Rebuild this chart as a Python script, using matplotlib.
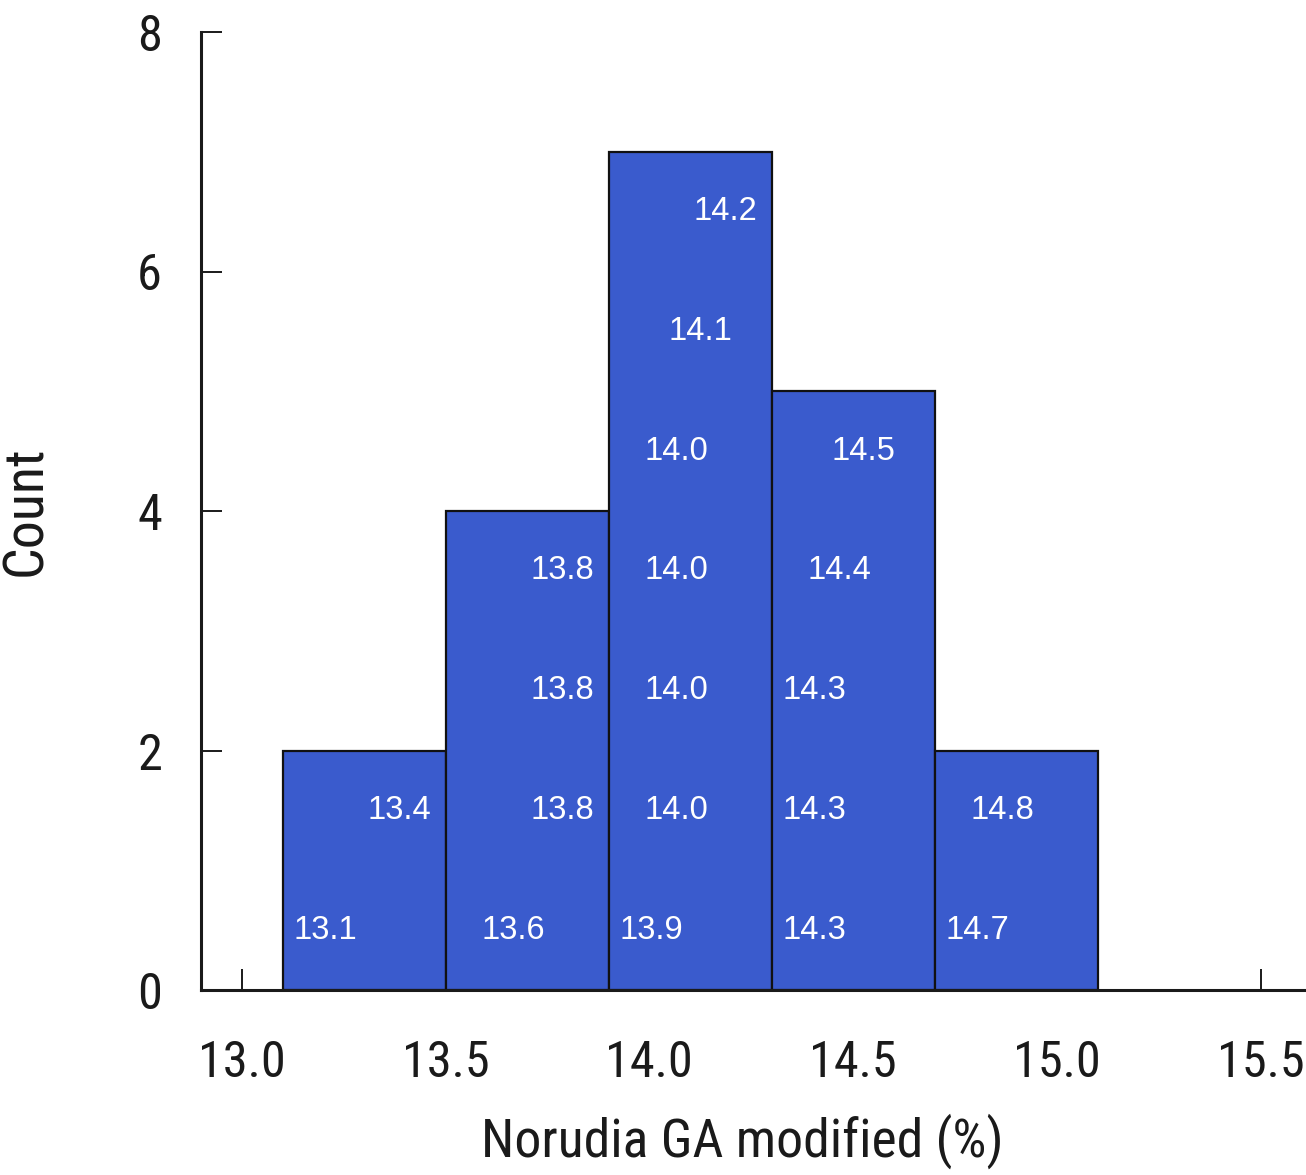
import matplotlib
matplotlib.use("Agg")
import matplotlib.pyplot as plt
from matplotlib import font_manager as fm
from matplotlib.font_manager import FontProperties
from matplotlib.textpath import TextPath

# ---- data ----
bin_edges = [13.1, 13.5, 13.9, 14.3, 14.7, 15.1]
values = [13.1, 13.4,
          13.6, 13.8, 13.8, 13.8,
          13.9, 14.0, 14.0, 14.0, 14.0, 14.1, 14.2,
          14.3, 14.3, 14.3, 14.4, 14.5,
          14.7, 14.8]
x_ticks = [13.0, 13.5, 14.0, 14.5, 15.0, 15.5]
x_tick_labels = ["13.0", "13.5", "14.0", "14.5", "15.0", "15.5"]
y_ticks = [0, 2, 4, 6, 8]
y_tick_labels = ["0", "2", "4", "6", "8"]
x_label = "Norudia GA modified (%)"
y_label = "Count"

# ---- choose the narrowest available sans font for axis text ----
keys = ["Liberation Sans", "Roboto", "Open Sans", "DejaVu Sans", "Noto Sans", "Lato", "Inter"]
best = None
target_ratio = 82.0 / 36.7
for f in fm.fontManager.ttflist:
    nm = f.name
    if not any(nm.startswith(k) for k in keys):
        continue
    if "Mono" in nm or "CJK" in nm or "Serif" in nm:
        continue
    if f.style != "normal":
        continue
    try:
        w = int(f.weight)
    except Exception:
        w = 400 if str(f.weight) in ("normal", "regular", "book") else 0
    if w not in (400,):
        continue
    try:
        fp = FontProperties(fname=f.fname)
        ext = TextPath((0, 0), "13.0", size=100, prop=fp).get_extents()
        ratio = ext.width / ext.height
    except Exception:
        continue
    score = abs(ratio - target_ratio)
    if best is None or score < best[0]:
        best = (score, f.fname, ext.height)

if best is None:
    axis_fp = FontProperties(family="Liberation Sans")
    h100 = 71.6
else:
    axis_fp = FontProperties(fname=best[1])
    h100 = best[2]

def size_for_height(px):
    return px * 72.0 / 100.0 / (h100 / 100.0)

tick_size = size_for_height(36.7)

def size_for_width(s, px):
    ext = TextPath((0, 0), s, size=100, prop=axis_fp).get_extents()
    return px * 72.0 / 100.0 / (ext.width / 100.0)

xlabel_size = min(size_for_width(x_label, 515), size_for_height(36.7) * 1.1)
ylabel_size = min(size_for_width(y_label, 125), size_for_height(36.7) * 1.12)

W, H = 1306, 1175
fig = plt.figure(figsize=(W / 100, H / 100), dpi=100)
ax = fig.add_axes([201 / W, 1 - 990 / H, 1105 / W, (990 - 32) / H])

bar_color = "#3A5BCD"
ax.hist(values, bins=bin_edges, color=bar_color, edgecolor="#111111", linewidth=1.6, zorder=1)

# value labels stacked inside bars
for i in range(len(bin_edges) - 1):
    lo, hi = bin_edges[i], bin_edges[i + 1]
    if i == len(bin_edges) - 2:
        inb = sorted(v for v in values if lo <= v <= hi)
    else:
        inb = sorted(v for v in values if lo <= v < hi)
    for k, v in enumerate(inb):
        xl = lo + 0.027 + (v - lo) * 0.601
        ax.text(xl, k + 0.5, f"{v:.1f}", color="white", ha="left", va="center",
                fontsize=23.5, family="Liberation Sans", zorder=3)

ax.set_xlim(12.9, 15.611)
ax.set_ylim(0, 8)
ax.set_axisbelow(True)
ax.set_xticks(x_ticks)
ax.set_xticklabels(x_tick_labels)
ax.set_yticks(y_ticks)
ax.set_yticklabels(y_tick_labels)
ax.tick_params(axis="both", direction="in", length=15, width=1.4, color="#1a1a1a",
               labelcolor="#1a1a1a")
ax.tick_params(axis="x", pad=35.5)
ax.tick_params(axis="y", pad=28)
for lab in ax.get_xticklabels() + ax.get_yticklabels():
    lab.set_fontproperties(axis_fp)
    lab.set_fontsize(tick_size)

for s in ["top", "right"]:
    ax.spines[s].set_visible(False)
for s in ["left", "bottom"]:
    ax.spines[s].set_linewidth(2.2)
    ax.spines[s].set_color("#1a1a1a")

t1 = fig.text(742 / W, 1 - 1157 / H, x_label, ha="center", va="baseline",
              fontproperties=axis_fp, color="#1a1a1a")
t1.set_fontsize(xlabel_size)
t2 = fig.text(41 / W, 1 - 511 / H, y_label, ha="center", va="baseline", rotation=90,
              rotation_mode="anchor", fontproperties=axis_fp, color="#1a1a1a")
t2.set_fontsize(ylabel_size)

fig.savefig("out.png", dpi=100)
